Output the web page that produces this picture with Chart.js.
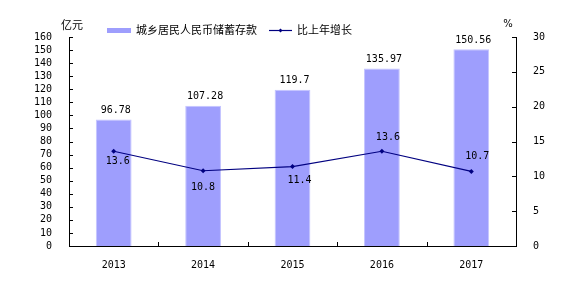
<!DOCTYPE html>
<html>
<head>
<meta charset="utf-8">
<script src="https://cdn.jsdelivr.net/npm/chart.js@4"></script>
<style>
  html, body { margin: 0; padding: 0; background: #fff; }
  #wrap { width: 580px; height: 284px; }
</style>
</head>
<body>
<div id="wrap"><canvas id="myChart" width="580" height="284"></canvas></div>
<script>
// data
const years = ['2013', '2014', '2015', '2016', '2017'];
const deposits = [96.78, 107.28, 119.7, 135.97, 150.56];
const growth = [13.6, 10.8, 11.4, 13.6, 10.7];
const depositLabel = '城乡居民人民币储蓄存款';
const growthLabel = '比上年增长';
const leftUnit = '亿元';
const rightUnit = '%';

// where the growth labels sit, relative to the point (style only)
const growthLabelShift = [[4, 10], [0, 17], [7, 14], [6, -14], [6, -15]];

const numFont = '10px "DejaVu Sans Mono", monospace';
const cjkFont = '11px "Noto Sans CJK SC", sans-serif';
const barColor = '#9e9efd';
const lineColor = '#000080';

const extras = {
  id: 'extras',
  afterDatasetsDraw(chart) {
    const ctx = chart.ctx;
    const area = chart.chartArea;
    const x = chart.scales.x;
    const y = chart.scales.y;
    const y1 = chart.scales.y1;
    ctx.save();
    ctx.strokeStyle = '#000';
    ctx.lineWidth = 1;
    // inward ticks
    ctx.beginPath();
    y.ticks.forEach(t => {
      const py = Math.round(y.getPixelForValue(t.value)) + 0.5;
      ctx.moveTo(area.left, py); ctx.lineTo(area.left + 4, py);
    });
    y1.ticks.forEach(t => {
      const py = Math.round(y1.getPixelForValue(t.value)) + 0.5;
      ctx.moveTo(area.right - 4, py); ctx.lineTo(area.right, py);
    });
    for (let i = 1; i < years.length; i++) {
      const px = Math.round((x.getPixelForValue(i - 1) + x.getPixelForValue(i)) / 2) + 0.5;
      ctx.moveTo(px, area.bottom); ctx.lineTo(px, area.bottom - 4);
    }
    ctx.stroke();

    // value labels
    ctx.fillStyle = '#000';
    ctx.font = numFont;
    ctx.textAlign = 'center';
    ctx.textBaseline = 'middle';
    chart.getDatasetMeta(0).data.forEach((bar, i) => {
      ctx.fillText(String(deposits[i]), bar.x + 2, bar.y - 9);
    });
    chart.getDatasetMeta(1).data.forEach((pt, i) => {
      const s = growthLabelShift[i];
      ctx.fillText(growth[i].toFixed(1), pt.x + s[0], pt.y + s[1]);
    });

    // units
    ctx.font = cjkFont;
    ctx.fillText(leftUnit, 72, 25);
    ctx.font = '10px "DejaVu Sans", sans-serif';
    ctx.fillText(rightUnit, 508, 24);

    // legend
    ctx.fillStyle = barColor;
    ctx.fillRect(107, 28, 24, 5);
    ctx.strokeStyle = lineColor;
    ctx.lineWidth = 1.2;
    ctx.beginPath();
    ctx.moveTo(269, 30.5); ctx.lineTo(292, 30.5);
    ctx.stroke();
    ctx.fillStyle = lineColor;
    ctx.beginPath();
    ctx.moveTo(280.5, 28.5); ctx.lineTo(282.5, 30.5); ctx.lineTo(280.5, 32.5); ctx.lineTo(278.5, 30.5);
    ctx.fill();
    ctx.fillStyle = '#000';
    ctx.font = cjkFont;
    ctx.textAlign = 'left';
    ctx.fillText(depositLabel, 136, 30);
    ctx.fillText(growthLabel, 297, 30);
    ctx.restore();
  }
};

function initChart(target) {
  const data = {
    labels: years,
    datasets: [
      {
        type: 'bar',
        label: depositLabel,
        data: deposits,
        yAxisID: 'y',
        backgroundColor: barColor,
        borderColor: '#c4c4ff',
        borderWidth: { left: 1, right: 1, top: 1, bottom: 0 },
        categoryPercentage: 1,
        barPercentage: 0.4,
        order: 2
      },
      {
        type: 'line',
        label: growthLabel,
        data: growth,
        yAxisID: 'y1',
        borderColor: lineColor,
        backgroundColor: lineColor,
        borderWidth: 1.2,
        pointStyle: 'rectRot',
        pointRadius: 2.5,
        pointBorderWidth: 0,
        tension: 0,
        order: 1
      }
    ]
  };

  const tickFont = { family: 'DejaVu Sans Mono', size: 10 };

  const config = {
    data: data,
    options: {
      responsive: false,
      animation: false,
      events: [],
      layout: { padding: { top: 37, left: 0, right: 0, bottom: 0 } },
      plugins: { legend: { display: false }, tooltip: { enabled: false } },
      scales: {
        x: {
          offset: true,
          grid: { display: false },
          border: { display: true, color: '#000', width: 1 },
          ticks: { color: '#000', font: tickFont, padding: 5 },
          afterFit: s => { s.height = 38; }
        },
        y: {
          position: 'left',
          min: 0,
          max: 160,
          grid: { display: false },
          border: { display: true, color: '#000', width: 1 },
          ticks: { stepSize: 10, autoSkip: false, color: '#000', font: tickFont, padding: 9 },
          afterFit: s => { s.width = 69; }
        },
        y1: {
          position: 'right',
          min: 0,
          max: 30,
          grid: { display: false },
          border: { display: true, color: '#000', width: 1 },
          ticks: { stepSize: 5, autoSkip: false, color: '#000', font: tickFont, padding: 9 },
          afterFit: s => { s.width = 64; }
        }
      }
    },
    plugins: [extras]
  };

  return new Chart(target, config);
}

document.addEventListener('DOMContentLoaded', () => initChart(document.querySelector('#myChart')));
</script>
</body>
</html>
